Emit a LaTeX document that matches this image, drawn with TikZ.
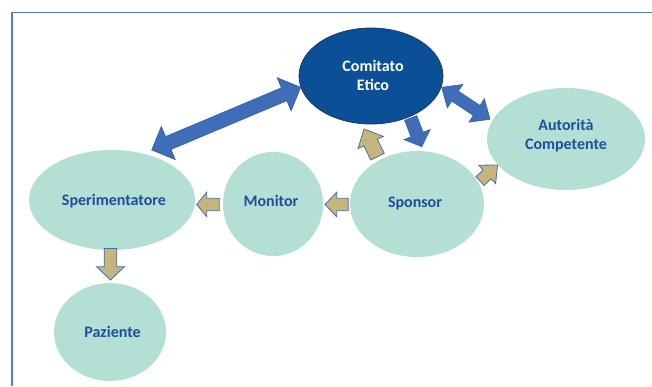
\documentclass[tikz,border=0pt]{standalone}
\usepackage{fontspec}
\setmainfont{Carlito}
\usetikzlibrary{calc,shapes.geometric}
\definecolor{framecol}{HTML}{4F81BD}
\definecolor{ceblue}{HTML}{0B4F97}
\definecolor{ceedge}{HTML}{1B3A66}
\definecolor{teal}{HTML}{B3DFD5}
\definecolor{labelcol}{HTML}{1D4F9A}
\definecolor{arrblue}{HTML}{3F6DB8}
\definecolor{arrblueedge}{HTML}{3560A8}
\definecolor{tan}{HTML}{C4B57D}
\definecolor{tanedge}{HTML}{4A6FA5}
\newcommand{\blockarr}[6]{%
  \coordinate (bh) at ($(#3)!#6!(#2)$);
  \draw[#1] ($(#2)!#4!90:(#3)$) -- ($(bh)!#4!90:(#3)$) -- ($(bh)!#5!90:(#3)$) -- (#3) -- ($(bh)!#5!-90:(#3)$) -- ($(bh)!#4!-90:(#3)$) -- ($(#2)!#4!-90:(#3)$) -- cycle;}
\newcommand{\dblarr}[6]{%
  \coordinate (dhA) at ($(#2)!#6!(#3)$);
  \coordinate (dhB) at ($(#3)!#6!(#2)$);
  \draw[#1] (#2) -- ($(dhA)!#5!90:(#3)$) -- ($(dhA)!#4!90:(#3)$) -- ($(dhB)!#4!90:(#3)$) -- ($(dhB)!#5!90:(#3)$) -- (#3) -- ($(dhB)!#5!-90:(#3)$) -- ($(dhB)!#4!-90:(#3)$) -- ($(dhA)!#4!-90:(#3)$) -- ($(dhA)!#5!-90:(#3)$) -- cycle;}
\begin{document}
\begin{tikzpicture}[x=1pt,y=-1pt,
  bubble/.style={ellipse, fill=teal, draw=none, inner sep=0pt},
  lbl/.style={font=\fontsize{16}{19}\selectfont\bfseries, text=labelcol, anchor=base, inner sep=0pt},
  wlbl/.style={font=\fontsize{16}{19}\selectfont\bfseries, text=white, anchor=base, inner sep=0pt},
  bluearr/.style={fill=arrblue, draw=arrblueedge, line width=0.6pt, line join=miter},
  tanarr/.style={fill=tan, draw=tanedge, line width=0.8pt, line join=miter},
  framebox/.style={draw=framecol, line width=1.3pt}]
\useasboundingbox (0,0) rectangle (652,386);
\fill[white] (0,0) rectangle (652,386);
\draw[framebox] (12,386) -- (12,12.5) -- (653,12.5);
% ellipses
\node[ellipse, fill=ceblue, draw=ceedge, line width=0.8pt, inner sep=0pt, minimum width=144pt, minimum height=96pt] (CE) at (371,76) {};
\node[bubble, minimum width=158pt, minimum height=102pt] (AC) at (566,139) {};
\node[bubble, minimum width=166pt, minimum height=100pt] (SP) at (112,200) {};
\node[bubble, minimum width=100pt, minimum height=104pt] (MO) at (273,204) {};
\node[bubble, minimum width=134pt, minimum height=106pt] (SO) at (417,204) {};
\node[bubble, minimum width=112pt, minimum height=98pt] (PA) at (110,332) {};
% labels
\node[wlbl] (ceT1) at (373,71) {Comitato};
\node[wlbl] (ceT2) at (373,90) {Etico};
\node[lbl] (acT1) at (566,130) {Autorità};
\node[lbl] (acT2) at (566,149) {Competente};
\node[lbl] (spT) at (114,205.5) {Sperimentatore};
\node[lbl] (moT) at (271,206) {Monitor};
\node[lbl] (soT) at (415,207) {Sponsor};
\node[lbl] (paT) at (112.5,337) {Paziente};
% arrow end points
\coordinate (spCEa) at (151.7,150);
\coordinate (spCEb) at (300.7,87.3);
\coordinate (ceACa) at (441.7,87.3);
\coordinate (ceACb) at (490,119.3);
\coordinate (ceSOa) at (410.7,118);
\coordinate (ceSOb) at (421.7,146.7);
\coordinate (soCEa) at (377.5,156.7);
\coordinate (soCEb) at (364,129);
\coordinate (soACa) at (480,181);
\coordinate (soACb) at (497.5,165);
\coordinate (soMOa) at (348.3,204.5);
\coordinate (soMOb) at (325,204.5);
\coordinate (moSPa) at (219.3,204.5);
\coordinate (moSPb) at (196.7,204.5);
\coordinate (spPAa) at (110.5,248.5);
\coordinate (spPAb) at (110.5,280);
% arrows
\dblarr{bluearr}{spCEa}{spCEb}{7pt}{18pt}{18pt}
\dblarr{bluearr}{ceACa}{ceACb}{6pt}{14pt}{16pt}
\blockarr{bluearr}{ceSOa}{ceSOb}{6.5pt}{14pt}{13pt}
\blockarr{tanarr}{soCEa}{soCEb}{7.5pt}{14pt}{15pt}
\blockarr{tanarr}{soACa}{soACb}{6pt}{12.5pt}{14pt}
\blockarr{tanarr}{soMOa}{soMOb}{6.2pt}{12.3pt}{11.7pt}
\blockarr{tanarr}{moSPa}{moSPb}{6.2pt}{12.3pt}{10pt}
\blockarr{tanarr}{spPAa}{spPAb}{6.3pt}{14pt}{13.3pt}
\end{tikzpicture}
\end{document}
